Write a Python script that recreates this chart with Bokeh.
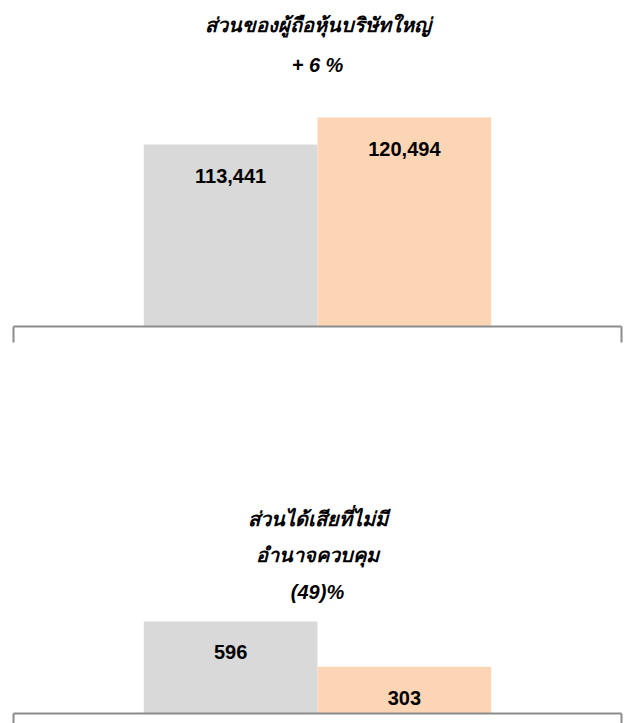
from bokeh.plotting import figure
from bokeh.models import Range1d, FixedTicker, Title, ColumnDataSource
from bokeh.layouts import column
from bokeh.embed import file_html
from bokeh.resources import INLINE
from bokeh.core.properties import value

# ---- data ----
periods = ["ปีก่อน", "ปีปัจจุบัน"]
owners_values = [113441, 120494]
owners_labels = ["113,441", "120,494"]
nci_values = [596, 303]
nci_labels = ["596", "303"]
bar_colors = ["#d9d9d9", "#fcd5b4"]
owners_title = ["ส่วนของผู้ถือหุ้นบริษัทใหญ่", "+ 6 %"]
nci_title = ["ส่วนได้เสียที่ไม่มี", "อำนาจควบคุม", "(49)%"]

TITLE_FONT = "Liberation Sans"
LABEL_FONT = "Liberation Sans"
AXIS_COLOR = "#8c8c8c"
PAD = 0.75  # empty space (in bar widths) left and right of the bar pair


def panel(values, labels, title_lines, height, y_start, y_end, border_top,
          border_bottom, tick_len, label_size, label_offset, standoffs):
    idx = list(range(len(periods)))
    src = ColumnDataSource(dict(x=idx, period=periods, value=values, label=labels,
                                color=bar_colors))
    x0, x1 = -0.5 - PAD, len(periods) - 0.5 + PAD
    p = figure(width=627, height=height, output_backend="svg", toolbar_location=None,
               x_range=Range1d(x0, x1), y_range=Range1d(y_start, y_end),
               min_border_left=13, min_border_right=6,
               min_border_top=border_top, min_border_bottom=border_bottom)
    p.vbar(x="x", top="value", bottom=y_start, width=1.0, color="color",
           line_color=None, source=src)
    p.text(x="x", y="value", text="label", source=src, text_align="center",
           text_baseline="middle", y_offset=label_offset, text_font=value(LABEL_FONT),
           text_font_size=label_size, text_font_style="bold", text_color="#000000")
    p.yaxis.visible = False
    p.xgrid.visible = False
    p.ygrid.visible = False
    p.outline_line_color = None

    ax = p.xaxis[0]
    ax.ticker = FixedTicker(ticks=[x0, x1])
    ax.major_label_overrides = {x0: "", x1: ""}
    ax.major_label_standoff = 0
    ax.major_tick_in = 0
    ax.major_tick_out = tick_len
    ax.major_tick_line_color = AXIS_COLOR
    ax.major_tick_line_width = 2
    ax.axis_line_color = AXIS_COLOR
    ax.axis_line_width = 2
    ax.minor_tick_line_color = None

    for line, so in zip(reversed(title_lines), standoffs):
        p.add_layout(Title(text=line, align="center", text_font=TITLE_FONT,
                           text_font_size="20px", text_font_style="bold italic",
                           text_color="#000000", standoff=so), "above")
    return p


# top: baseline at y=326, frame top at 90
p1 = panel(owners_values, owners_labels, owners_title, 400, 66000, 127540, 90, 74,
           16, "20px", 31, [30, 1])
# bottom: baseline at y=713 (canvas), frame top at 610
p2 = panel(nci_values, nci_labels, nci_title, 323, 0, 667, 210, 10,
           10, "20px", 31, [15, 12, 12])

layout = column(p1, p2, spacing=0)
open("out.html", "w").write(file_html(layout, INLINE))
